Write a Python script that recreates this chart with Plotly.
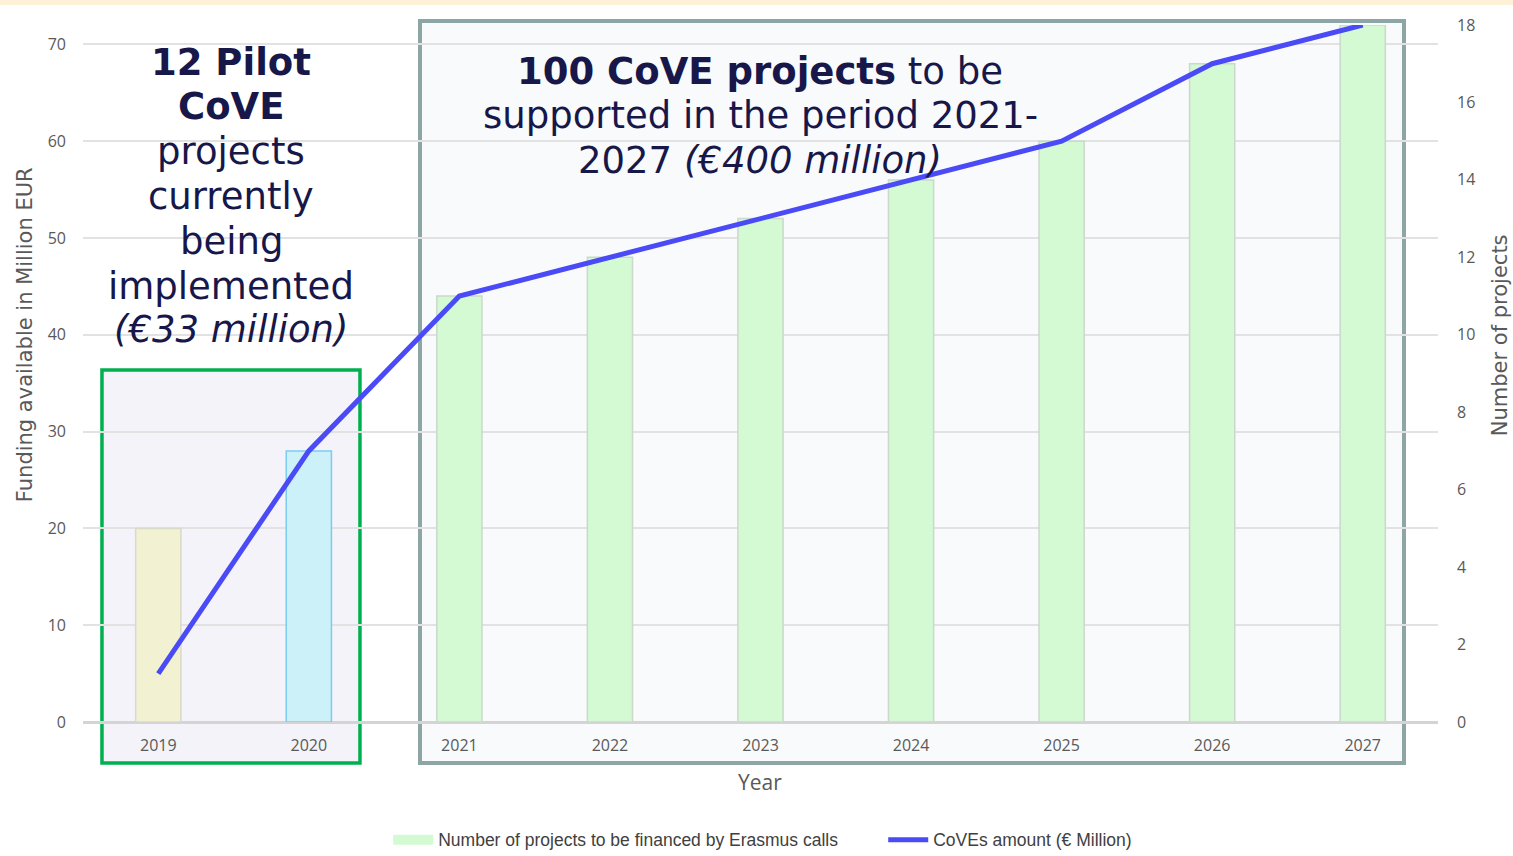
import plotly.graph_objects as go

years = ["2019", "2020", "2021", "2022", "2023", "2024", "2025", "2026", "2027"]
projects = [5, 7, 11, 12, 13, 14, 15, 17, 18]
funding = [5, 28, 44, 48, 52, 56, 60, 68, 72]
pilot_years = years[:2]
pilot_projects = projects[:2]
erasmus_years = years[2:]
erasmus_projects = projects[2:]
left_ticks = [0, 10, 20, 30, 40, 50, 60, 70]
right_ticks = [0, 2, 4, 6, 8, 10, 12, 14, 16, 18]

pilot_lines = ["<b>12 Pilot</b>", "<b>CoVE</b>", "projects", "currently", "being",
               "implemented", "<i>(€33 million)</i>"]
erasmus_lines = ["<b>100 CoVE projects</b> to be", "supported in the period 2021-",
                 "2027 <i>(€400 million)</i>"]

NAVY = "#17174A"
GREY = "#595959"
GREEN_BAR = "#D3FAD3"

fig = go.Figure()
fig.add_trace(go.Bar(
    x=pilot_years, y=pilot_projects, yaxis="y", width=0.3,
    marker=dict(color=["#F2F2D2", "#CDF1F8"], line=dict(color=["#D8DACA", "#7DCBEE"], width=1.5)),
    showlegend=False, hoverinfo="skip",
))
fig.add_trace(go.Bar(
    x=erasmus_years, y=erasmus_projects, yaxis="y", width=0.3,
    marker=dict(color=GREEN_BAR, line=dict(color="#CBD8CB", width=1.5)),
    showlegend=False, hoverinfo="skip",
))
# legend entry for the bars (wide green swatch)
fig.add_trace(go.Scatter(
    x=[None], y=[None], mode="lines", yaxis="y",
    line=dict(color=GREEN_BAR, width=14),
    name="Number of projects to be financed by Erasmus calls",
    hoverinfo="skip",
))
fig.add_trace(go.Scatter(
    x=years, y=funding, mode="lines", yaxis="y2",
    line=dict(color="#4A4AF7", width=5),
    name="CoVEs amount (€ Million)",
    hoverinfo="skip",
))

shapes = [
    dict(type="rect", xref="paper", yref="paper", x0=-0.07, x1=1.06, y0=1.0287, y1=1.04,
         fillcolor="#FEF1D8", line=dict(width=0), layer="below"),
    dict(type="rect", xref="paper", yref="paper", x0=0.014, x1=0.2044, y0=-0.0588, y1=0.505,
         fillcolor="#F3F3F9", line=dict(width=0), layer="below"),
    dict(type="rect", xref="paper", yref="paper", x0=0.2487, x1=0.9749, y0=-0.0588, y1=1.0057,
         fillcolor="#F9FAFB", line=dict(width=0), layer="below"),
    dict(type="rect", xref="paper", yref="paper", x0=0.014, x1=0.2044, y0=-0.0588, y1=0.505,
         fillcolor="rgba(0,0,0,0)", line=dict(color="#00B050", width=3.5), layer="between"),
    dict(type="rect", xref="paper", yref="paper", x0=0.2487, x1=0.9749, y0=-0.0588, y1=1.0057,
         fillcolor="rgba(0,0,0,0)", line=dict(color="#8CA5A5", width=4), layer="between"),
]

# pixel -> paper helpers for text placement (plot area: x 83..1438, y 25..722)
def px_x(px):
    return (px - 83) / 1355.0

def px_y(py):
    return (722 - py) / 697.0

annotations = []
pilot_centers = [62, 106, 151, 196, 241, 286, 329]
for txt, cy in zip(pilot_lines, pilot_centers):
    annotations.append(dict(xref="paper", yref="paper", x=px_x(231), y=px_y(cy),
                            xanchor="center", yanchor="middle", showarrow=False, text=txt,
                            font=dict(family="DejaVu Sans", size=37, color=NAVY)))
erasmus_centers = [71, 115, 160]
for txt, cy in zip(erasmus_lines, erasmus_centers):
    annotations.append(dict(xref="paper", yref="paper", x=px_x(760), y=px_y(cy),
                            xanchor="center", yanchor="middle", showarrow=False, text=txt,
                            font=dict(family="DejaVu Sans", size=37, color=NAVY)))

annotations += [
    dict(xref="paper", yref="paper", x=-0.0428, y=0.555, xanchor="center", yanchor="middle",
         showarrow=False, textangle=-90, text="Funding available in Million EUR",
         font=dict(family="DejaVu Sans", size=21, color=GREY)),
    dict(xref="paper", yref="paper", x=1.0458, y=0.555, xanchor="center", yanchor="middle",
         showarrow=False, textangle=-90, text="Number of projects",
         font=dict(family="DejaVu Sans", size=21, color=GREY)),
    dict(xref="paper", yref="paper", x=0.4996, y=-0.086, xanchor="center", yanchor="middle",
         showarrow=False, text="Year",
         font=dict(family="Open Sans", size=21, color=GREY)),
]

tick_font = dict(family="Open Sans", size=16, color=GREY)

fig.update_layout(
    width=1513, height=856,
    margin=dict(l=83, r=75, t=25, b=134, autoexpand=False),
    paper_bgcolor="white", plot_bgcolor="rgba(0,0,0,0)",
    shapes=shapes, annotations=annotations,
    barmode="overlay",
    xaxis=dict(type="category", showgrid=False, showline=False, ticks="",
               tickfont=tick_font, ticklabelstandoff=12),
    yaxis=dict(range=[0, 18], tickvals=right_ticks, side="right", showgrid=False,
               zeroline=False, showline=False,
               tickfont=tick_font, ticklabelstandoff=18),
    yaxis2=dict(range=[0, 72], tickvals=left_ticks, overlaying="y", side="left",
                showgrid=True, gridcolor="#E2E2E2", gridwidth=1.5,
                zeroline=True, zerolinecolor="#D4D4D4", zerolinewidth=3, showline=False,
                tickfont=tick_font, ticklabelstandoff=16),
    showlegend=True,
    legend=dict(orientation="h", x=0.502 + 120 / 1355.0, xanchor="center", y=-0.169, yanchor="middle",
                font=dict(family="Liberation Sans Narrow, Liberation Sans", size=17.5, color="#404040"),
                itemwidth=40, entrywidth=440, entrywidthmode="pixels",
                tracegroupgap=0, bgcolor="rgba(0,0,0,0)"),
)

fig.write_html("out.html", config={"displayModeBar": False},
               post_script="document.body.style.margin='0';")
